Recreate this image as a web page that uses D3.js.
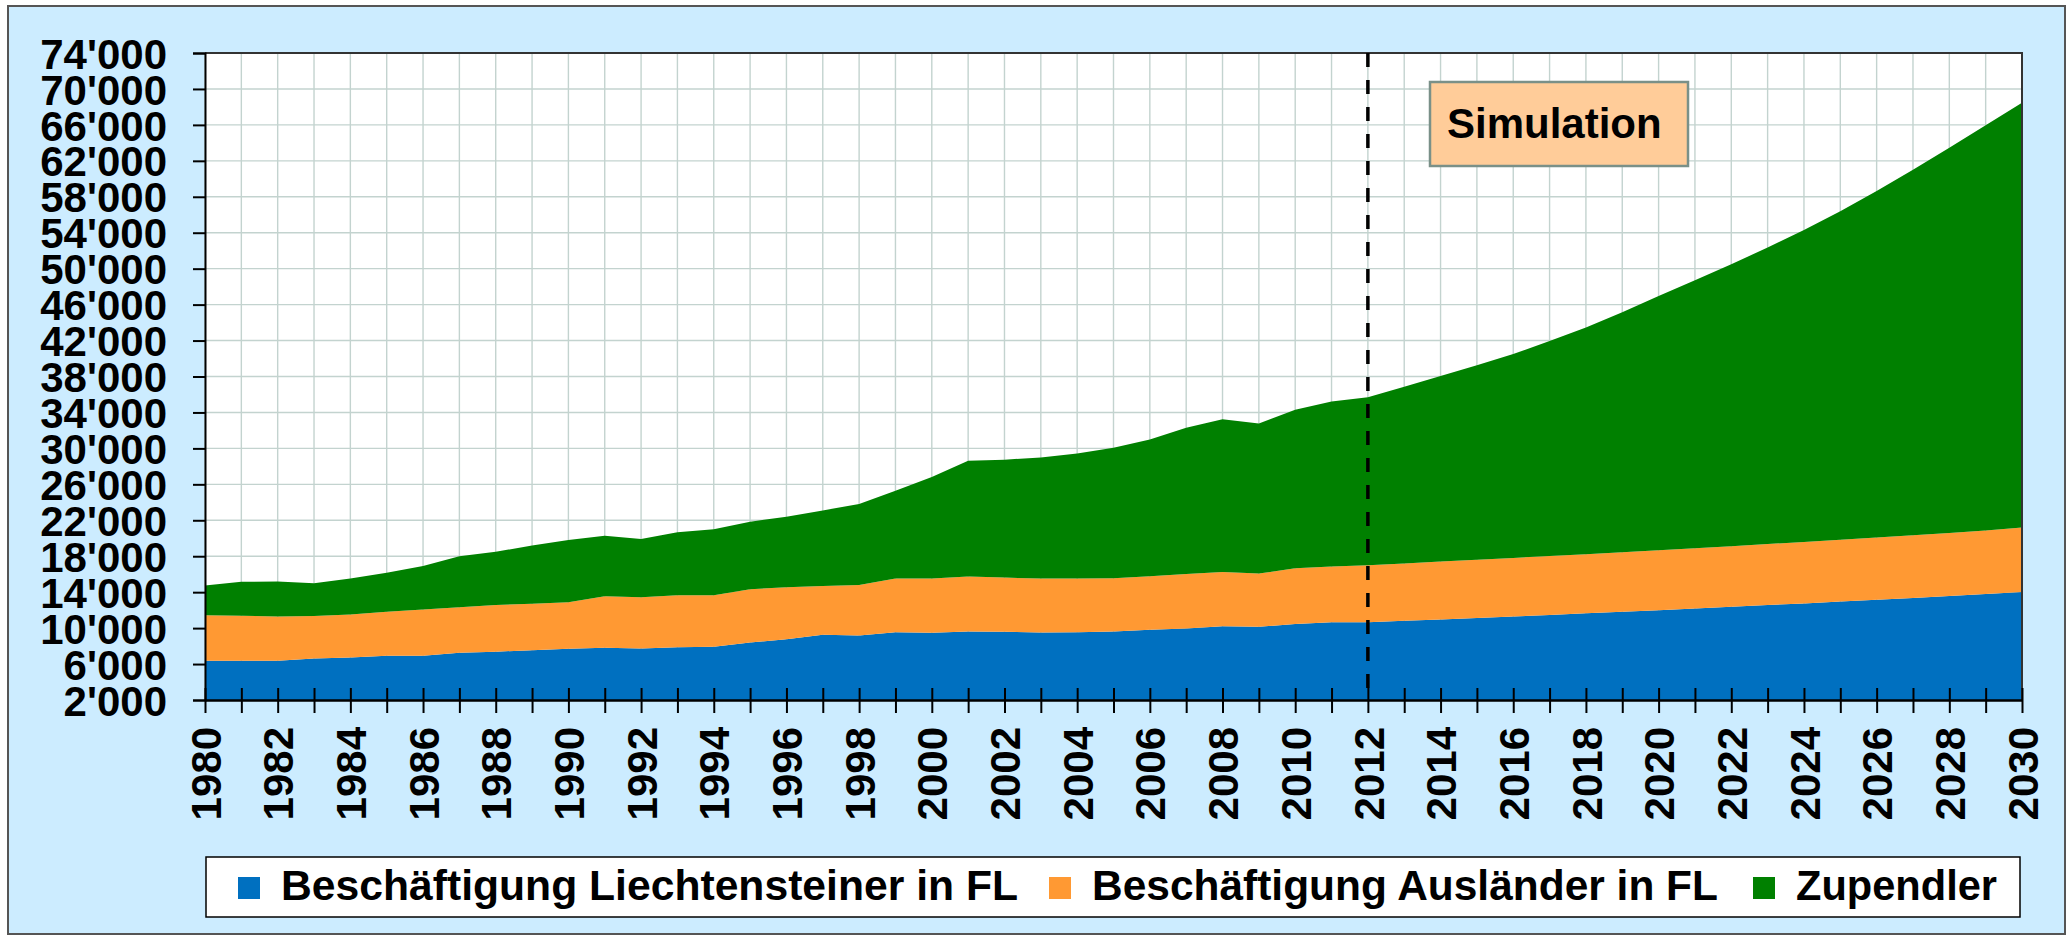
<!DOCTYPE html>
<html>
<head>
<meta charset="utf-8">
<script src="https://cdn.jsdelivr.net/npm/d3@7"></script>
<style>
body { margin: 0; background: #fff; }
text { font-family: "Liberation Sans", Arial, sans-serif; font-weight: bold; }
</style>
</head>
<body>
<script>
var years = [1980, 1981, 1982, 1983, 1984, 1985, 1986, 1987, 1988, 1989,
             1990, 1991, 1992, 1993, 1994, 1995, 1996, 1997, 1998, 1999,
             2000, 2001, 2002, 2003, 2004, 2005, 2006, 2007, 2008, 2009,
             2010, 2011, 2012, 2013, 2014, 2015, 2016, 2017, 2018, 2019,
             2020, 2021, 2022, 2023, 2024, 2025, 2026, 2027, 2028, 2029, 2030]

var liechtensteiner = [6365, 6365, 6365, 6630, 6740, 6925, 6925, 7260, 7380, 7550,
                       7700, 7810, 7730, 7880, 7920, 8400, 8770, 9250, 9180, 9550,
                       9470, 9620, 9590, 9510, 9550, 9620, 9810, 9960, 10220, 10140,
                       10470, 10660, 10650, 10810, 10970, 11130, 11300, 11470, 11640, 11820,
                       12000, 12180, 12370, 12560, 12750, 12950, 13150, 13360, 13570, 13790, 14030]

var auslaender = [5080, 5005, 4935, 4705, 4780, 4890, 5150, 5075, 5190, 5150,
                  5180, 5740, 5710, 5780, 5740, 5930, 5780, 5450, 5630, 5960,
                  6040, 6110, 6030, 6000, 5970, 5930, 5960, 6070, 6030, 5930,
                  6190, 6190, 6350, 6390, 6430, 6470, 6510, 6550, 6590, 6630,
                  6670, 6710, 6750, 6790, 6840, 6880, 6930, 6970, 7020, 7070, 7160]

var zupendler = [3295, 3780, 3885, 3665, 4000, 4335, 4850, 5665, 5930, 6480,
                 6930, 6740, 6480, 7000, 7330, 7520, 7830, 8400, 9000, 9780,
                 11300, 12890, 13120, 13490, 13910, 14520, 15220, 16260, 17000, 16700,
                 17630, 18370, 18700, 19650, 20650, 21650, 22690, 23930, 25220, 26700,
                 28280, 29810, 31380, 33000, 34710, 36570, 38570, 40670, 42860, 45090, 47260]

var seriesNames = ['Beschäftigung Liechtensteiner in FL', 'Beschäftigung Ausländer in FL', 'Zupendler']
var seriesColors = ['#0070C0', '#FF9933', '#008000']

var yTicks = [2000, 6000, 10000, 14000, 18000, 22000, 26000, 30000, 34000, 38000,
              42000, 46000, 50000, 54000, 58000, 62000, 66000, 70000, 74000]
var simulationStart = 2012

// build table for d3.stack
var table = years.map(function (yr, i) {
	return {year: yr, a: liechtensteiner[i], b: auslaender[i], c: zupendler[i]}
})
var keys = ['a', 'b', 'c']

// Variables
var W = 2069, H = 939
var pLeft = 205, pRight = 2022, pTop = 53, pBottom = 700
var fmt = d3.formatLocale({decimal: '.', thousands: "'", grouping: [3], currency: ['', '']}).format(',')

var svg = d3.select('body').append('svg')
	.attr('width', W)
	.attr('height', H)

// outer frame
svg.append('rect')
	.attr('x', 8).attr('y', 6)
	.attr('width', 2057).attr('height', 928)
	.attr('fill', '#CCECFF')
	.attr('stroke', '#555')
	.attr('stroke-width', 2)

// Scales
var xScale = d3.scaleLinear()
	.domain([years[0], years[years.length - 1]])
	.range([pLeft, pRight])

var yScale = d3.scaleLinear()
	.domain([2000, 74000])
	.range([pBottom, pTop])

// plot background
svg.append('rect')
	.attr('x', pLeft).attr('y', pTop)
	.attr('width', pRight - pLeft).attr('height', pBottom - pTop)
	.attr('fill', '#fff')

svg.append('clipPath').attr('id', 'plotclip')
	.append('rect')
	.attr('x', pLeft).attr('y', pTop)
	.attr('width', pRight - pLeft).attr('height', pBottom - pTop)

// grid
var grid = svg.append('g')
grid.selectAll('line.v').data(years).enter().append('line')
	.attr('x1', function (d) { return xScale(d) })
	.attr('x2', function (d) { return xScale(d) })
	.attr('y1', pTop).attr('y2', pBottom)
	.attr('stroke', '#c3d3cf').attr('stroke-width', 1.4)
grid.selectAll('line.h').data(yTicks).enter().append('line')
	.attr('x1', pLeft).attr('x2', pRight)
	.attr('y1', function (d) { return yScale(d) })
	.attr('y2', function (d) { return yScale(d) })
	.attr('stroke', '#c3d3cf').attr('stroke-width', 1.4)

// stacked areas
var stacked = d3.stack().keys(keys)(table)
var area = d3.area()
	.x(function (d) { return xScale(d.data.year) })
	.y0(function (d) { return yScale(d[0]) })
	.y1(function (d) { return yScale(d[1]) })

svg.append('g').attr('clip-path', 'url(#plotclip)')
	.selectAll('path')
	.data(stacked)
	.enter()
	.append('path')
	.attr('d', area)
	.attr('fill', function (d, i) { return seriesColors[i] })

// plot border (top / right)
svg.append('path')
	.attr('d', 'M' + pLeft + ',' + pTop + 'H' + pRight + 'V' + pBottom)
	.attr('fill', 'none')
	.attr('stroke', '#333')
	.attr('stroke-width', 2)

// simulation divider
svg.append('line')
	.attr('x1', xScale(simulationStart)).attr('x2', xScale(simulationStart))
	.attr('y1', pTop).attr('y2', pBottom)
	.attr('stroke', '#000')
	.attr('stroke-width', 3.5)
	.attr('stroke-dasharray', '14,13')

// Y axis
var yAxis = svg.append('g')
	.attr('transform', 'translate(' + pLeft + ',0)')
	.call(d3.axisLeft(yScale).tickValues(yTicks).tickSize(12).tickPadding(26).tickFormat(fmt))
yAxis.select('.domain').attr('stroke', '#000').attr('stroke-width', 2)
yAxis.selectAll('.tick line').attr('stroke', '#000').attr('stroke-width', 2)
yAxis.selectAll('text')
	.attr('dy', '0.36em')
	.style('font-size', '42px')
	.attr('fill', '#000')

// X axis: ticks every year, labels every second year
var xAxis = svg.append('g')
	.attr('transform', 'translate(0,' + pBottom + ')')
	.call(d3.axisBottom(xScale).tickValues(years).tickSizeInner(13).tickSizeOuter(0)
		.tickFormat(function (d) { return d % 2 == 0 ? d : '' }))
xAxis.select('.domain').attr('stroke', '#000').attr('stroke-width', 2.5)
xAxis.selectAll('.tick line').attr('y1', -12).attr('stroke', '#000').attr('stroke-width', 2)
xAxis.selectAll('text')
	.attr('transform', 'rotate(-90)')
	.attr('x', -27)
	.attr('y', 0)
	.attr('dy', '0.36em')
	.style('text-anchor', 'end')
	.style('font-size', '42px')
	.attr('fill', '#000')

// Simulation label
svg.append('rect')
	.attr('x', 1430).attr('y', 82)
	.attr('width', 258).attr('height', 84)
	.attr('fill', '#FFCC99')
	.attr('stroke', '#7a9088')
	.attr('stroke-width', 2.5)
svg.append('text')
	.attr('x', 1447).attr('y', 138)
	.style('font-size', '42px')
	.text('Simulation')

// Legend
var legend = svg.append('g')
legend.append('rect')
	.attr('x', 206).attr('y', 857)
	.attr('width', 1814).attr('height', 60)
	.attr('fill', '#fff')
	.attr('stroke', '#000')
	.attr('stroke-width', 1.5)
var legendX = [238, 1049, 1753]
var legendW = [737, 626, 201]
var items = legend.selectAll('g.item')
	.data(seriesNames)
	.enter()
	.append('g')
	.attr('transform', function (d, i) { return 'translate(' + legendX[i] + ',0)' })
items.append('rect')
	.attr('x', 0).attr('y', 877)
	.attr('width', 22).attr('height', 22)
	.attr('fill', function (d, i) { return seriesColors[i] })
items.append('text')
	.attr('x', 43).attr('y', 900)
	.attr('textLength', function (d, i) { return legendW[i] })
	.attr('lengthAdjust', 'spacingAndGlyphs')
	.style('font-size', '42px')
	.text(function (d) { return d })
</script>
</body>
</html>
